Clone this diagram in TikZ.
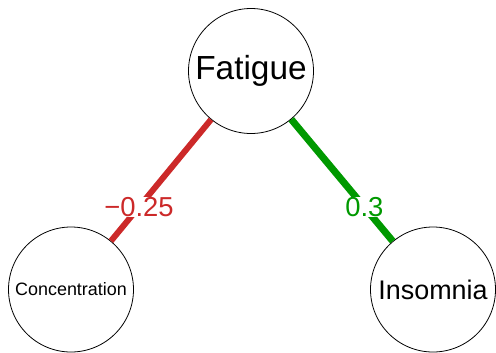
\documentclass[tikz,border=0pt]{standalone}
\usepackage{fontspec}
\setmainfont{Liberation Sans}
\definecolor{negred}{RGB}{204,41,41}
\definecolor{posgreen}{RGB}{0,153,0}
\begin{document}
\begin{tikzpicture}[x=1bp,y=-1bp,
  vnode/.style={circle,draw=black,line width=0.8bp,fill=white,minimum size=125bp,inner sep=0pt},
  elabel/.style={fill=white,inner sep=0.5bp,font=\fontsize{27.5}{30}\selectfont}]
\useasboundingbox (0,0) rectangle (496,352);
\node[vnode,font=\fontsize{33.5}{36}\selectfont] (fat) at (251,71) {Fatigue};
\node[vnode,font=\fontsize{18}{20}\selectfont] (con) at (71,289.5) {Concentration};
\node[vnode,font=\fontsize{27}{30}\selectfont] (ins) at (433,289.5) {Insomnia};
\draw[negred,line width=6bp] (fat) -- node[pos=0.72,elabel,text=negred] (l1) {−0.25} (con);
\draw[posgreen,line width=7bp] (fat) -- node[pos=0.72,elabel,text=posgreen] (l2) {0.3} (ins);
\end{tikzpicture}
\end{document}
